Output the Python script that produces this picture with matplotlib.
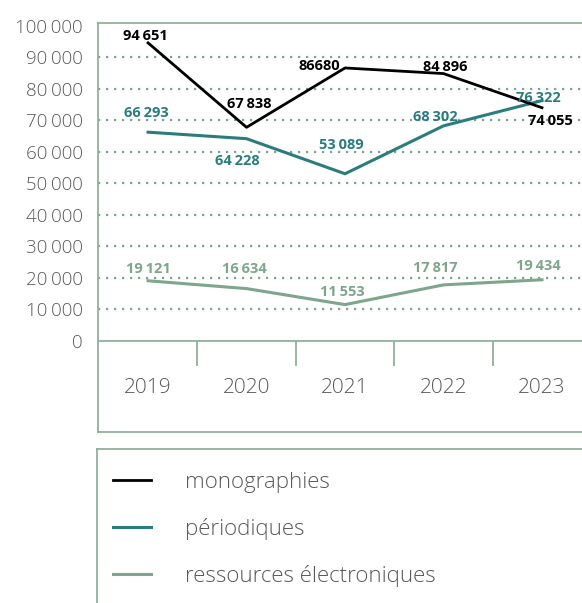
import matplotlib.pyplot as plt
from matplotlib.lines import Line2D

plt.rcParams['font.family'] = ['Open Sans', 'DejaVu Sans']

# data
years = ['2019', '2020', '2021', '2022', '2023']
monographies = [94651, 67838, 86680, 84896, 74055]
periodiques = [66293, 64228, 53089, 68302, 76322]
ressources = [19121, 16634, 11553, 17817, 19434]

mono_labels = ['94\u2009651', '67\u2009838', '86680', '84\u2009896', '74\u2009055']
peri_labels = ['66\u2009293', '64\u2009228', '53\u2009089', '68\u2009302', '76\u2009322']
res_labels = ['19\u2009121', '16\u2009634', '11\u2009553', '17\u2009817', '19\u2009434']

yticks = list(range(0, 100001, 10000))
ytick_labels = ['0'] + [f'{v // 1000}\u2009000' for v in yticks[1:]]

black = '#000000'
teal = '#2b7c7d'
sage = '#7fa58d'
frame = '#8fb19c'
grey = '#58595b'

W, H = 582, 603
fig = plt.figure(figsize=(W / 100, H / 100), dpi=100)
ax = fig.add_axes([98 / W, 1 - 432 / H, (W - 98) / W, (432 - 23) / H])
ax.set_xlim(-0.508, 4.406)
ax.set_ylim(-28889, 100952)

ax.spines['right'].set_visible(False)
for s in ['left', 'top', 'bottom']:
    ax.spines[s].set_color(frame)
    ax.spines[s].set_linewidth(1.3)

# gridlines
ax.hlines(yticks[1:-1], -0.508, 4.406, colors=sage, linestyles=(0, (1, 2.6)), linewidth=1.6)
ax.axhline(0, color=frame, linewidth=1.3)
ax.vlines([0.5, 1.5, 2.5, 3.5], -7900, 0, colors=frame, linewidth=1.3)

ax.set_yticks(yticks)
ax.set_yticklabels(ytick_labels)
ax.tick_params(axis='y', length=0, pad=11, labelsize=13.5, labelcolor=grey)
for t in ax.get_yticklabels():
    t.set_fontweight('light')
ax.set_xticks([])

x = list(range(len(years)))
for i, yr in enumerate(years):
    ax.text(i, -14900, yr, ha='center', va='center', fontsize=15, color=grey, fontweight='light')

ax.plot(x, ressources, color=sage, linewidth=2.2, label='ressources électroniques')
ax.plot(x, periodiques, color=teal, linewidth=2.2, label='périodiques')
ax.plot(x, monographies, color=black, linewidth=2, label='monographies')

mono_off = [(-3, 7), (3, 23), (-26, 2), (2, 7), (8, -13)]
peri_off = [(-2, 19), (-9, -22), (-4, 29), (-8, 9), (-4, 3)]
res_off = [(0, 12), (-2, 20), (-3, 13), (-8, 17), (-4, 14)]

for vals, labs, offs, col in [(monographies, mono_labels, mono_off, black),
                              (periodiques, peri_labels, peri_off, teal),
                              (ressources, res_labels, res_off, sage)]:
    for i, (v, lab, off) in enumerate(zip(vals, labs, offs)):
        ax.annotate(lab, (i, v), xytext=off, textcoords='offset pixels',
                    ha='center', va='center', fontsize=10.5, fontweight='bold', color=col)

# legend box
fig.add_artist(Line2D([97 / W, 97 / W], [0, 1 - 449 / H], color=frame, linewidth=1.3))
fig.add_artist(Line2D([97 / W, 1], [1 - 449 / H, 1 - 449 / H], color=frame, linewidth=1.3))

handles, labels = ax.get_legend_handles_labels()
order = [2, 1, 0]
leg = fig.legend([handles[i] for i in order], [labels[i] for i in order],
                 loc='upper left', bbox_to_anchor=(113 / W, 1 - 472 / H),
                 frameon=False, fontsize=16, handlelength=1.71, handletextpad=1.53,
                 labelspacing=1.12, borderpad=0, borderaxespad=0)
for t in leg.get_texts():
    t.set_color(grey)
    t.set_fontweight('light')

fig.savefig('out.png', dpi=100)
